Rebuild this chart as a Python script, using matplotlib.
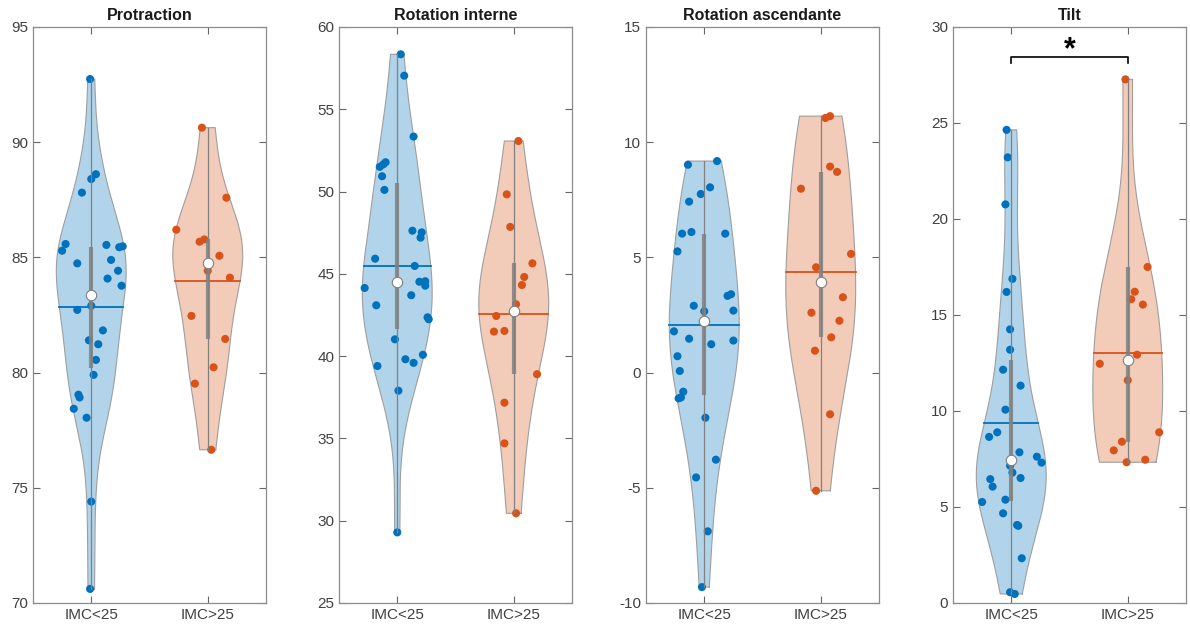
import numpy as np
import matplotlib
matplotlib.use('Agg')
from matplotlib import pyplot as plt

plt.rcParams['font.family'] = ['Liberation Sans', 'DejaVu Sans']
plt.rcParams['axes.unicode_minus'] = False

# -------------------------------
# Data
# -------------------------------
titles = ['Protraction', 'Rotation interne', 'Rotation ascendante', 'Tilt']
groups = ['IMC<25', 'IMC>25']
ylims = [(70, 95), (25, 60), (-10, 15), (0, 30)]
ysteps = [5, 5, 5, 5]

prot_lo = [92.74, 88.61, 88.40, 87.81, 85.58, 85.29, 84.74, 85.54, 85.44, 85.48, 84.89, 84.42, 83.77, 84.08,
           82.72, 82.90, 81.83, 81.40, 81.23, 80.55, 79.90, 79.04, 78.92, 78.43, 78.04, 74.40, 70.61]
prot_lo_jit = [-0.01, 0.04, 0.00, -0.08, -0.22, -0.25, -0.12, 0.13, 0.24, 0.27, 0.17, 0.23, 0.26, 0.14,
               -0.12, 0.00, 0.10, -0.02, 0.06, 0.04, 0.02, -0.11, -0.10, -0.15, -0.04, 0.00, -0.01]
prot_hi = [90.63, 87.59, 86.20, 85.68, 85.78, 85.07, 84.42, 84.12, 82.46, 81.46, 80.23, 79.52, 76.65]
prot_hi_jit = [-0.05, 0.16, -0.27, -0.07, -0.03, 0.10, 0.00, 0.19, -0.14, 0.15, 0.05, -0.11, 0.03]

rint_lo = [58.34, 57.04, 53.34, 51.50, 51.65, 51.78, 50.93, 50.10, 47.62, 47.52, 47.20, 45.92, 45.48, 44.14,
           44.52, 44.55, 44.28, 43.70, 43.09, 42.36, 42.24, 41.02, 39.40, 39.81, 39.59, 40.08, 37.90, 29.29]
rint_lo_jit = [0.03, 0.06, 0.14, -0.15, -0.12, -0.10, -0.13, -0.11, 0.13, 0.21, 0.20, -0.19, 0.15, -0.28,
               0.19, 0.24, 0.24, 0.12, -0.18, 0.26, 0.27, -0.02, -0.17, 0.07, 0.14, 0.22, 0.01, 0.00]
rint_hi = [53.07, 49.83, 47.85, 45.64, 44.81, 44.32, 43.15, 42.44, 41.49, 41.53, 38.90, 37.17, 34.70, 30.45]
rint_hi_jit = [0.04, -0.06, -0.03, 0.16, 0.09, 0.07, 0.02, -0.15, -0.17, -0.08, 0.20, -0.08, -0.08, 0.02]

rasc_lo = [9.02, 9.18, 8.04, 7.75, 7.42, 6.03, 6.10, 6.03, 5.26, 3.33, 3.40, 2.90, 2.66, 2.69,
           1.79, 1.47, 1.23, 1.39, 0.71, 0.07, -0.83, -1.12, -1.08, -1.96, -3.78, -4.55, -6.89, -9.31]
rasc_lo_jit = [-0.14, 0.11, 0.05, -0.03, -0.13, -0.19, -0.11, 0.18, -0.23, 0.20, 0.23, -0.09, 0.00, 0.25,
               -0.26, -0.13, 0.06, 0.25, -0.23, -0.21, -0.18, -0.22, -0.20, 0.01, 0.10, -0.07, 0.03, -0.02]
rasc_hi = [11.05, 11.13, 8.94, 8.71, 7.98, 5.15, 4.57, 3.27, 2.60, 2.25, 1.53, 0.95, -1.81, -5.13]
rasc_hi_jit = [0.04, 0.08, 0.08, 0.14, -0.17, 0.26, -0.04, 0.19, -0.08, 0.16, 0.09, -0.05, 0.08, -0.04]

tilt_lo = [24.64, 23.21, 20.76, 16.88, 16.20, 14.25, 13.19, 12.15, 11.32, 10.07, 8.89, 8.65, 7.85, 7.62,
           7.31, 7.15, 6.79, 6.51, 6.45, 6.06, 5.26, 5.38, 4.67, 4.06, 4.02, 2.33, 0.56, 0.47]
tilt_lo_jit = [-0.04, -0.03, -0.05, 0.01, -0.04, -0.01, -0.01, -0.07, 0.08, -0.05, -0.12, -0.19, 0.07, 0.22,
               0.26, -0.01, 0.01, 0.08, -0.18, -0.16, -0.25, -0.05, -0.07, 0.05, 0.06, 0.09, -0.01, 0.03]
tilt_hi = [27.27, 17.50, 16.21, 15.82, 15.54, 12.93, 12.46, 11.60, 8.89, 8.40, 7.95, 7.33, 7.46]
tilt_hi_jit = [-0.02, 0.17, 0.06, 0.03, 0.13, 0.08, -0.24, 0.00, 0.27, -0.05, -0.12, -0.01, 0.15]

# summary stats: [IMC<25, IMC>25]
medians = [[83.38, 84.74], [44.52, 42.76], [2.22, 3.92], [7.45, 12.66]]
means = [[82.85, 83.98], [45.50, 42.54], [2.05, 4.35], [9.38, 13.02]]
q1s = [[80.18, 81.46], [41.63, 38.91], [-0.97, 1.53], [5.31, 8.40]]
q3s = [[85.44, 85.78], [50.50, 45.64], [6.00, 8.71], [12.66, 17.48]]

data = [[prot_lo, prot_hi], [rint_lo, rint_hi], [rasc_lo, rasc_hi], [tilt_lo, tilt_hi]]
jits = [[prot_lo_jit, prot_hi_jit], [rint_lo_jit, rint_hi_jit],
        [rasc_lo_jit, rasc_hi_jit], [tilt_lo_jit, tilt_hi_jit]]

colors = [(0, 0.447, 0.741), (0.850, 0.325, 0.098)]
gray = (0.5, 0.5, 0.5)


def kde(x, grid):
    # matlab ksdensity default bandwidth
    x = np.asarray(x)
    n = len(x)
    sig = np.median(np.abs(x - np.median(x))) / 0.6745
    bw = sig * (4.0 / (3.0 * n)) ** 0.2
    z = (grid[:, None] - x[None, :]) / bw
    return np.exp(-0.5 * z**2).sum(axis=1) / (n * bw * np.sqrt(2 * np.pi))


fig = plt.figure(figsize=(11.9, 6.27), dpi=100)
lefts = [33, 339, 646, 953]

for k in range(4):
    ax = fig.add_axes([lefts[k] / 1190, 0.0383, 233 / 1190, 0.9187])
    for g in range(2):
        pos = g + 1
        vals = np.array(data[k][g])
        grid = np.linspace(vals.min(), vals.max(), 200)
        dens = kde(vals, grid)
        w = 0.3 / dens.max()
        xs = np.concatenate([pos + dens * w, pos - dens[::-1] * w])
        ys = np.concatenate([grid, grid[::-1]])
        ax.fill(xs, ys, facecolor=colors[g], alpha=0.3, edgecolor='none', zorder=1)
        ax.plot(np.append(xs, xs[0]), np.append(ys, ys[0]), color=(0.62, 0.62, 0.62), lw=0.8, zorder=1.5)

        ax.scatter(pos + np.array(jits[k][g]), vals, s=34, color=colors[g], edgecolors='none', zorder=2)

        # mean line
        dm = kde(vals, np.array([means[k][g]]))[0] * w
        ax.plot([pos - dm, pos + dm], [means[k][g], means[k][g]], color=colors[g], lw=1.3, zorder=3)

        # whisker + box
        ax.plot([pos, pos], [vals.min(), vals.max()], color=gray, lw=0.9, zorder=3)
        ax.plot([pos, pos], [q1s[k][g], q3s[k][g]], color=gray, lw=3.0, alpha=0.85,
                solid_capstyle='butt', zorder=4)
        ax.plot(pos, medians[k][g], 'o', ms=7.5, mfc='white', mec=gray, mew=0.8, zorder=5)

    ax.set_xlim(0.5, 2.5)
    ax.set_ylim(*ylims[k])
    ax.set_yticks(np.arange(ylims[k][0], ylims[k][1] + 0.1, ysteps[k]))
    ax.set_xticks([1, 2])
    ax.set_xticklabels(groups)
    ax.set_title(titles[k], fontsize=11.5, fontweight='bold', pad=5, color='#1a1a1a')
    ax.tick_params(direction='in', top=True, right=True, length=5, width=0.8,
                   color='#666666', labelcolor='#404040', labelsize=11)
    for sp in ax.spines.values():
        sp.set_color('#8c8c8c')
        sp.set_linewidth(0.9)

    if k == 3:
        ax.plot([1, 1, 2, 2], [28.1, 28.45, 28.45, 28.1], color='black', lw=1.2, zorder=6)
        ax.text(1.5, 27.98, '*', ha='center', va='bottom', fontsize=22, fontweight='bold', color='black')

plt.savefig('out.png', dpi=100)
